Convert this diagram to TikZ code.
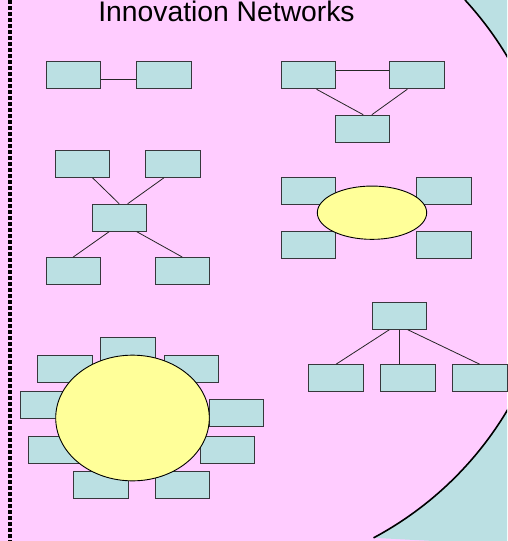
\documentclass[tikz,border=0pt]{standalone}
\usepackage{fontspec}
\setmainfont{Liberation Sans}
\usetikzlibrary{positioning, shapes.geometric}
\definecolor{slidepink}{RGB}{255, 204, 255}
\definecolor{netteal}{RGB}{187, 224, 227}
\definecolor{hubyellow}{RGB}{255, 255, 153}
\definecolor{edgegrey}{RGB}{55, 55, 60}

\begin{document}
\begin{tikzpicture}[x=1pt, y=-1pt,
    netbox/.style={draw=edgegrey, fill=netteal, line width=0.9pt,
                   minimum width=54.5pt, minimum height=27pt, inner sep=0pt},
    hub/.style={draw=black, fill=hubyellow, ellipse, line width=0.9pt, inner sep=0pt},
    link/.style={draw=black!85, line width=0.8pt}]
  \useasboundingbox (0,0) rectangle (507,541);
  % slide background
  \fill[slidepink] (0,0) rectangle (507,541);
  \begin{scope}
    \clip (0,0) rectangle (507,541);
    \fill[netteal] (465,0) arc[start angle=42.6, end angle=-61.9, radius=345pt]
          -- (510,545) -- (510,-5) -- cycle;
    \draw[line width=1.6pt] (465,0) arc[start angle=42.6, end angle=-61.9, radius=345pt];
  \end{scope}
  \draw[line width=4pt, dash pattern=on 4pt off 2pt] (9.8,0) -- (9.8,541);

  \node[font=\fontsize{28.3}{30}\selectfont, anchor=base] (title) at (226.5,21)
        {Innovation Networks};

  % pair
  \node[netbox] (b1) at (73.2,75.3) {};
  \node[netbox] (b2) at (163.8,75.3) {};
  \draw[link] ([yshift=-4pt]b1.east) -- ([yshift=-4pt]b2.west);

  % triangle
  \node[netbox] (t1) at (308.5,75.3) {};
  \node[netbox] (t2) at (416.8,75.3) {};
  \node[netbox] (t3) at (362.3,128.7) {};
  \draw[link] ([yshift=4.6pt]t1.east) -- ([yshift=4.6pt]t2.west);
  \draw[link] ([xshift=8pt]t1.south) -- ([xshift=1pt]t3.north);
  \draw[link] ([xshift=-9.5pt]t2.south) -- ([xshift=9.5pt]t3.north);

  % star
  \node[netbox] (x1) at (82.5,163.8) {};
  \node[netbox] (x2) at (173,163.8) {};
  \node[netbox] (xc) at (119.2,217.7) {};
  \node[netbox] (x3) at (73.2,271) {};
  \node[netbox] (x4) at (182.3,271) {};
  \draw[link] ([xshift=10pt]x1.south) -- (xc.north);
  \draw[link] ([xshift=-9pt]x2.south) -- ([xshift=8.5pt]xc.north);
  \draw[link] ([xshift=-10pt]xc.south) -- (x3.north);
  \draw[link] ([xshift=17.5pt]xc.south) -- (x4.north);

  % small hub
  \node[netbox] (e1) at (308.5,190.7) {};
  \node[netbox] (e2) at (444,190.7) {};
  \node[netbox] (e3) at (308.5,244.5) {};
  \node[netbox] (e4) at (444,244.5) {};
  \node[hub, minimum width=109.4pt, minimum height=53.3pt] (ehub) at (372,212.7) {};

  % tree
  \node[netbox] (r) at (399.3,315.8) {};
  \node[netbox] (c1) at (336,378.2) {};
  \node[netbox] (c2) at (407.7,378.2) {};
  \node[netbox] (c3) at (479.8,378.2) {};
  \draw[link] ([xshift=-10pt]r.south) -- (c1.north);
  \draw[link] (r.south) -- (r.south |- c2.north);
  \draw[link] ([xshift=8.5pt]r.south) -- (c3.north);

  % big hub
  \node[netbox] (s1) at (127.8,351.3) {};
  \node[netbox] (s2) at (64.7,368.7) {};
  \node[netbox] (s3) at (191.3,368.7) {};
  \node[netbox] (s4) at (47.2,404.5) {};
  \node[netbox] (s5) at (236.2,413.3) {};
  \node[netbox] (s6) at (55.5,449.5) {};
  \node[netbox] (s7) at (227.3,449.5) {};
  \node[netbox] (s8) at (100.8,485.2) {};
  \node[netbox] (s9) at (182.3,485.2) {};
  \node[hub, minimum width=153.6pt, minimum height=125.7pt] (bhub) at (132.5,418) {};
\end{tikzpicture}
\end{document}
